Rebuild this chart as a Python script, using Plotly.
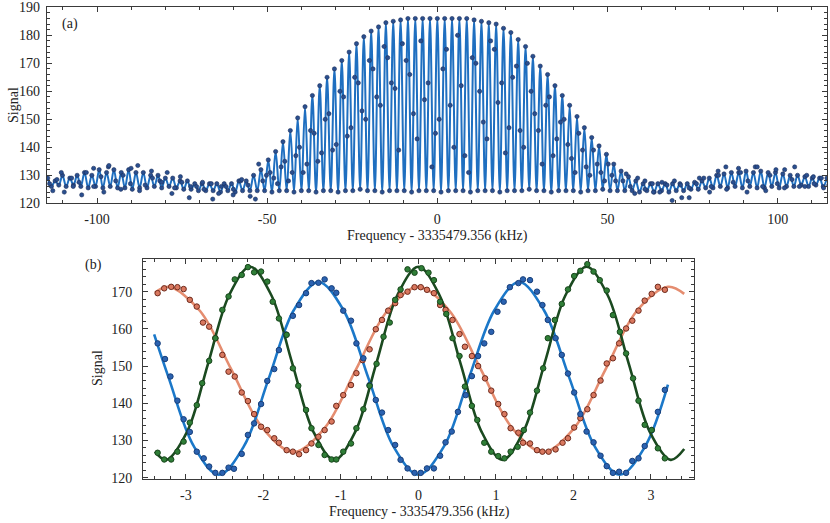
import plotly.graph_objects as go

# ---------------- Panel (a) data ----------------
FRINGE_PERIOD = 2.16  # kHz, spacing of fringes
fringe_index = list(range(-53, 54))

peak_a = [129, 128, 130, 129, 130, 131, 130, 132, 131, 132, 131, 132, 131, 131, 130, 130, 129, 129,
          128, 128, 127, 127, 127, 127, 127, 127, 128, 128, 130, 132, 135.5, 138.5, 142, 146, 150.5,
          154.5, 158.5, 162, 165, 168, 171, 174, 177, 179.5, 181.5, 183, 184.5, 185, 185.5, 186, 186,
          186, 186, 186, 186, 186, 186, 186, 185.5, 185, 184.5, 184, 182.5, 181, 178.5, 176, 172.5,
          169, 166, 162, 158.5, 155, 151, 147, 143.5, 140.5, 137.5, 134, 131.5, 129.5, 128, 127, 127,
          127, 127, 127, 127, 127, 127.5, 128, 129, 130, 130.5, 131, 131, 131.5, 131, 131.5, 131, 131,
          130.5, 130, 130, 129.5, 129, 129, 129]

trough_a = [126, 126.5, 126, 126.5, 126, 125.5, 126, 125.5, 126, 125.5, 125.5, 125, 125.5, 125.5, 126,
            125.5, 126, 125.5, 125, 125, 124.5, 124.5, 124.5, 124, 124.5, 124, 124.5, 124.5, 124.5,
            124.5, 124, 124.5, 124.5, 124, 124.5, 124.5, 124, 124.5, 124.5, 124, 124.5, 124.5, 125,
            124.5, 124.5, 124, 124.5, 124.5, 124.5, 124, 124.5, 124.5, 124.5, 124, 124.5, 124.5,
            124.5, 124, 124.5, 124.5, 124.5, 124, 124.5, 124.5, 124.5, 125, 124.5, 124.5, 124,
            124.5, 124.5, 124.5, 124, 124.5, 124.5, 125, 124.5,
            124.5, 124.5, 124.5, 124, 124.5, 124, 124.5, 124, 124.5, 124.5, 125, 125, 125.5, 125.5,
            126, 125.5, 126, 125.5, 126, 125.5, 125.5, 126, 125.5, 126, 126, 126.5, 126, 126.5, 126]

mid1_a = [127, 128.5, 124, 129, 127.5, 131, 126, 129.5, 133, 128, 130, 127, 133.5, 126.5, 129, 128,
          131, 125.5, 127.5, 122, 126, 125, 127, 123.5, 126, 125, 128, 126.5, 121.5,
          128, 131, 127, 135, 131, 140, 134, 145, 138, 152, 141, 158, 147, 163, 150, 168, 155, 172,
          161, 177, 166, 143, 157, 133,
          150, 175, 140, 162, 131, 170, 149, 178, 156, 138, 165, 146, 170, 152, 134, 158, 143, 150,
          136, 145, 133, 139, 131, 134, 128,
          128, 126, 129, 125, 127, 124, 126.5, 128, 122, 125.5, 127, 129, 126, 130, 133, 127.5, 131,
          128, 133, 126, 130, 127, 132, 128.5, 126, 130, 127, 129, 126.5]

mid2_index = list(range(-24, 24))
mid2_a = [130, 129, 133, 128, 137, 131, 146, 135, 150, 139, 160, 144, 165, 153, 171, 158, 176, 163,
          139, 171, 152, 178, 163, 145, 168, 155, 180, 137, 172, 160, 143, 175, 163, 147, 169, 140,
          160, 146, 155, 137, 149, 141, 131, 139, 130, 134, 128, 130]

# extra scattered samples in the side lobes (x in kHz, signal)
side_x = [-113, -110.5, -107, -104.5, -101, -98, -96.5, -93, -90, -87.5, -84, -81, -78, -75.5, -72.5,
          -69, -66, -63.5, -60, -57.5, -55, -52.5,
          55.5, 58, 61, 63.5, 66, 69, 71.5, 74, 77, 80, 82.5, 85, 88.5, 91, 94, 96.5, 99.5, 102, 105,
          108, 110.5, 113.5]
side_y = [124.5, 131, 126, 123, 132.5, 124, 133.5, 125, 132.5, 124.5, 131.5, 127.5, 123.5, 129.5,
          126, 127.5, 121.5, 126, 123, 128.5, 122.5, 134,
          130.5, 123.5, 128, 124, 127.5, 121, 126.5, 122, 129, 124, 131.5, 125, 132.5, 124, 133,
          124.5, 132, 125.5, 133, 126, 129.5, 125.5]

xa_ticks = [-100, -50, 0, 50, 100]
xa_ticktext = ["-100", "-50", "0", "50", "100"]
ya_ticks = [120, 130, 140, 150, 160, 170, 180, 190]

# ---------------- Panel (b) data ----------------
blue_x = [-3.365, -3.27, -3.20, -3.11, -3.03, -2.95, -2.86, -2.77, -2.70, -2.62, -2.53, -2.45, -2.38,
          -2.28, -2.20, -2.12, -2.03, -1.95, -1.86, -1.80, -1.71, -1.62, -1.54, -1.45, -1.38, -1.29,
          -1.21, -1.12, -1.06, -0.97, -0.87, -0.80, -0.71, -0.63, -0.55, -0.47, -0.39, -0.30, -0.23,
          -0.14, -0.05, 0.03, 0.11, 0.20, 0.28, 0.35, 0.43, 0.51, 0.61, 0.69, 0.77, 0.85, 0.94, 1.02,
          1.10, 1.18, 1.29, 1.35, 1.44, 1.53, 1.60, 1.67, 1.77, 1.85, 1.93, 2.01, 2.09, 2.17, 2.26,
          2.35, 2.43, 2.51, 2.59, 2.68, 2.76, 2.84, 2.92, 3.01, 3.09, 3.18]
blue_y = [156.1, 151.9, 147.2, 140.7, 135.7, 132.3, 127.0, 125.2, 123.0, 121.3, 121.3, 122.7, 122.4,
          126.4, 131.5, 134.6, 139.8, 146.0, 149.2, 154.3, 158.5, 163.5, 166.4, 169.6, 172.3, 172.4,
          173.3, 170.9, 169.7, 164.9, 162.2, 156.1, 152.1, 144.9, 140.9, 137.5, 132.8, 128.8, 124.8,
          122.5, 121.3, 121.3, 122.5, 122.5, 125.9, 129.5, 132.4, 137.7, 142.2, 147.3, 152.7, 156.1,
          159.2, 164.6, 167.3, 171.2, 172.3, 173.3, 173.1, 170.0, 166.4, 162.4, 157.5, 153.0, 148.0,
          142.9, 137.1, 132.4, 129.5, 125.9, 123.1, 121.3, 121.6, 121.3, 124.5, 125.2, 128.5, 132.8,
          137.7, 143.6]
blue_fit_x = [-3.41, -3.22, -2.897, -2.575, -2.253, -1.931, -1.609, -1.288, -0.966, -0.644, -0.322,
              0.0, 0.33, 0.65, 0.98, 1.30, 1.62, 1.95, 2.275, 2.60, 2.925, 3.22]
blue_fit_y = [158.5, 146.7, 128.4, 120.8, 128.4, 146.7, 165.0, 172.6, 165.0, 146.7, 128.4, 120.8,
              128.4, 146.7, 165.0, 172.6, 165.0, 146.7, 128.4, 120.8, 128.4, 145.0]

green_x = [-3.365, -3.28, -3.19, -3.11, -3.03, -2.95, -2.86, -2.79, -2.70, -2.62, -2.53, -2.45, -2.37,
           -2.28, -2.20, -2.12, -2.03, -1.95, -1.88, -1.80, -1.70, -1.62, -1.55, -1.45, -1.38, -1.29,
           -1.21, -1.12, -1.06, -0.97, -0.87, -0.80, -0.71, -0.63, -0.54, -0.45, -0.37, -0.30, -0.23,
           -0.14, -0.05, 0.04, 0.13, 0.20, 0.28, 0.36, 0.44, 0.53, 0.60, 0.69, 0.76, 0.85, 0.94, 1.03,
           1.11, 1.19, 1.28, 1.36, 1.44, 1.53, 1.61, 1.67, 1.76, 1.85, 1.93, 2.01, 2.09, 2.18, 2.26,
           2.34, 2.43, 2.51, 2.60, 2.68, 2.77, 2.84, 2.92, 3.01, 3.09, 3.18]
green_y = [126.7, 124.9, 124.9, 127.0, 129.7, 134.8, 139.5, 145.4, 151.4, 157.5, 165.1, 168.7, 173.3,
           174.5, 176.6, 175.2, 175.4, 172.7, 167.3, 162.8, 158.4, 149.4, 144.7, 138.2, 133.3, 128.8,
           126.1, 124.9, 124.9, 127.0, 129.2, 133.3, 138.4, 144.7, 150.6, 157.9, 161.7, 167.8, 170.6,
           176.0, 175.1, 176.3, 175.1, 173.1, 167.3, 164.0, 157.5, 152.7, 144.5, 139.3, 135.5, 129.4,
           127.0, 125.8, 125.2, 127.0, 128.3, 132.8, 137.5, 143.4, 149.4, 157.5, 162.4, 166.7, 170.6,
           174.2, 175.6, 177.4, 175.4, 173.1, 170.3, 163.7, 159.2, 153.4, 146.7, 140.7, 134.2, 132.8,
           127.9, 125.2]
green_fit_x = [-3.40, -3.255, -2.984, -2.713, -2.441, -2.17, -1.899, -1.628, -1.356, -1.085, -0.814,
               -0.543, -0.271, 0.0, 0.271, 0.543, 0.814, 1.085, 1.356, 1.628, 1.899, 2.17, 2.441,
               2.713, 2.984, 3.255, 3.43]
green_fit_y = [127.0, 124.8, 132.4, 150.75, 169.1, 176.7, 169.1, 150.75, 132.4, 124.8, 132.4, 150.75,
               169.1, 176.7, 169.1, 150.75, 132.4, 124.8, 132.4, 150.75, 169.1, 176.7, 169.1, 150.75,
               132.4, 124.8, 127.7]

orange_x = [-3.365, -3.28, -3.19, -3.11, -3.03, -2.95, -2.86, -2.78, -2.70, -2.62, -2.53, -2.45, -2.37,
            -2.28, -2.20, -2.12, -2.03, -1.95, -1.86, -1.80, -1.70, -1.62, -1.54, -1.45, -1.38, -1.29,
            -1.21, -1.12, -1.06, -0.97, -0.87, -0.80, -0.72, -0.63, -0.55, -0.47, -0.39, -0.30, -0.23,
            -0.14, -0.05, 0.03, 0.11, 0.20, 0.28, 0.35, 0.44, 0.53, 0.60, 0.69, 0.77, 0.86, 0.94, 1.03,
            1.11, 1.19, 1.29, 1.35, 1.44, 1.53, 1.60, 1.68, 1.77, 1.86, 1.93, 2.01, 2.09, 2.18, 2.26,
            2.35, 2.43, 2.51, 2.59, 2.68, 2.76, 2.84, 2.92, 3.01, 3.09, 3.18]
orange_y = [169.6, 170.9, 171.3, 171.2, 170.7, 167.8, 166.0, 161.7, 160.6, 157.5, 153.0, 148.5, 147.2,
            142.9, 140.6, 137.1, 133.7, 132.8, 130.6, 129.4, 127.4, 127.0, 126.3, 127.4, 129.2, 131.0,
            132.8, 135.1, 139.3, 142.2, 144.9, 148.1, 151.6, 154.5, 159.9, 162.4, 164.9, 166.9, 169.1,
            170.0, 171.2, 171.2, 170.5, 169.6, 166.4, 165.1, 162.4, 158.6, 155.2, 152.7, 150.0, 146.7,
            143.4, 139.8, 137.1, 133.3, 132.1, 129.4, 129.2, 127.4, 127.0, 127.0, 127.6, 129.4, 130.6,
            133.5, 136.0, 138.4, 142.2, 146.1, 150.7, 152.1, 156.1, 160.1, 162.2, 164.9, 167.6, 169.4,
            171.3, 170.5]
orange_fit_x = [-3.40, -3.22, -2.8175, -2.415, -2.0125, -1.61, -1.2075, -0.805, -0.4025, 0.0, 0.4025,
                0.805, 1.2075, 1.61, 2.0125, 2.415, 2.8175, 3.22, 3.43]
orange_fit_y = [169.7, 171.3, 164.8, 149.1, 133.4, 126.9, 133.4, 149.1, 164.8, 171.3, 164.8, 149.1,
                133.4, 126.9, 133.4, 149.1, 164.8, 171.3, 169.4]

xb_ticks = [-3, -2, -1, 0, 1, 2, 3]
xb_ticktext = ["-3", "-2", "-1", "0", "1", "2", "3"]
yb_ticks = [120, 130, 140, 150, 160, 170]

# ---------------- Build panel (a) line / points ----------------
line_ax, line_ay = [], []
for i, k in enumerate(fringe_index):
    line_ax.append(k * FRINGE_PERIOD)
    line_ay.append(peak_a[i])
    if i < len(trough_a):
        line_ax.append((k + 0.5) * FRINGE_PERIOD)
        line_ay.append(trough_a[i])

dots_ax = list(line_ax)
dots_ay = list(line_ay)
for i, k in enumerate(fringe_index):
    dots_ax.append((k + 0.25) * FRINGE_PERIOD)
    dots_ay.append(mid1_a[i])
for i, k in enumerate(mid2_index):
    dots_ax.append((k + 0.75) * FRINGE_PERIOD)
    dots_ay.append(mid2_a[i])
dots_ax += side_x
dots_ay += side_y

FONT = "Liberation Serif"
AX_COL = "#3a3a3a"

fig = go.Figure()
fig.add_trace(go.Scatter(x=line_ax, y=line_ay, mode="lines", xaxis="x", yaxis="y",
                         line=dict(color="#1f6fc0", width=2.0, shape="spline", smoothing=1.0),
                         showlegend=False, hoverinfo="skip"))
fig.add_trace(go.Scatter(x=dots_ax, y=dots_ay, mode="markers", xaxis="x", yaxis="y",
                         marker=dict(color="#2a4f8f", size=4.2,
                                     line=dict(color="#1b2f5c", width=0.6)),
                         showlegend=False))

# ---------------- panel (b) ----------------
series = [
    (orange_fit_x, orange_fit_y, orange_x, orange_y, "#e58d70", "#d9785f", "#6e2a1c"),
    (blue_fit_x, blue_fit_y, blue_x, blue_y, "#1b78c9", "#2b62b0", "#173f7a"),
    (green_fit_x, green_fit_y, green_x, green_y, "#1b4a20", "#2f7e37", "#17451b"),
]
for fx, fy, px, py, lc, mc, ec in series:
    fig.add_trace(go.Scatter(x=fx, y=fy, mode="lines", xaxis="x2", yaxis="y2",
                             line=dict(color=lc, width=2.6, shape="spline", smoothing=1.0),
                             showlegend=False, hoverinfo="skip"))
for fx, fy, px, py, lc, mc, ec in series:
    fig.add_trace(go.Scatter(x=px, y=py, mode="markers", xaxis="x2", yaxis="y2",
                             marker=dict(color=mc, size=5.5, line=dict(color=ec, width=1)),
                             showlegend=False))

W, H = 830, 523


def px_dom_x(a, b):
    return [a / W, b / W]


def px_dom_y(top, bottom):
    return [1 - bottom / H, 1 - top / H]


common = dict(showline=True, linecolor=AX_COL, linewidth=1.3, mirror="allticks", ticks="inside",
              ticklen=5, tickwidth=1, tickcolor=AX_COL, showgrid=False, zeroline=False,
              automargin=False,
              tickfont=dict(family=FONT, size=14, color="#222"))

fig.update_layout(
    width=W, height=H, autosize=False,
    margin=dict(l=0, r=0, t=0, b=0, pad=0),
    paper_bgcolor="white", plot_bgcolor="white",
    font=dict(family=FONT, size=13, color="#222"),
    xaxis=dict(domain=px_dom_x(47, 827), range=[-114.7, 114.5], anchor="y",
               tickvals=xa_ticks, ticktext=xa_ticktext,
               minor=dict(dtick=10, tick0=0, ticks="inside", ticklen=3, tickcolor=AX_COL),
               ticklabelstandoff=3, **common),
    yaxis=dict(domain=px_dom_y(7.3, 203.3), range=[120, 190], anchor="x",
               tickvals=ya_ticks,
               minor=dict(dtick=2, tick0=0, ticks="inside", ticklen=3, tickcolor=AX_COL),
               ticklabelstandoff=3, **common),
    xaxis2=dict(domain=px_dom_x(143.3, 694.3), range=[-3.55, 3.56], anchor="y2",
                tickvals=xb_ticks, ticktext=xb_ticktext,
                minor=dict(dtick=0.2, tick0=0, ticks="inside", ticklen=3, tickcolor=AX_COL),
                ticklabelstandoff=3, **common),
    yaxis2=dict(domain=px_dom_y(259.3, 479.3), range=[119.57, 178.7], anchor="x2",
                tickvals=yb_ticks,
                minor=dict(dtick=2, tick0=0, ticks="inside", ticklen=3, tickcolor=AX_COL),
                ticklabelstandoff=7, **common),
)


def ann(text, x, y, angle=0, size=14):
    fig.add_annotation(text=text, x=x / W, y=1 - y / H, xref="paper", yref="paper",
                       showarrow=False, textangle=angle, xanchor="center", yanchor="middle",
                       font=dict(family=FONT, size=size, color="#222"))


ann("(a)", 70, 24)
ann("Signal", 13, 105, angle=-90)
ann("Frequency - 3335479.356 (kHz)", 437, 236)
ann("(b)", 93, 265)
ann("Signal", 97, 368, angle=-90)
ann("Frequency - 3335479.356 (kHz)", 419, 512)

fig.write_html("out.html",
               config={"displayModeBar": False},
               post_script="document.body.style.margin='0';document.body.style.overflow='hidden';")
